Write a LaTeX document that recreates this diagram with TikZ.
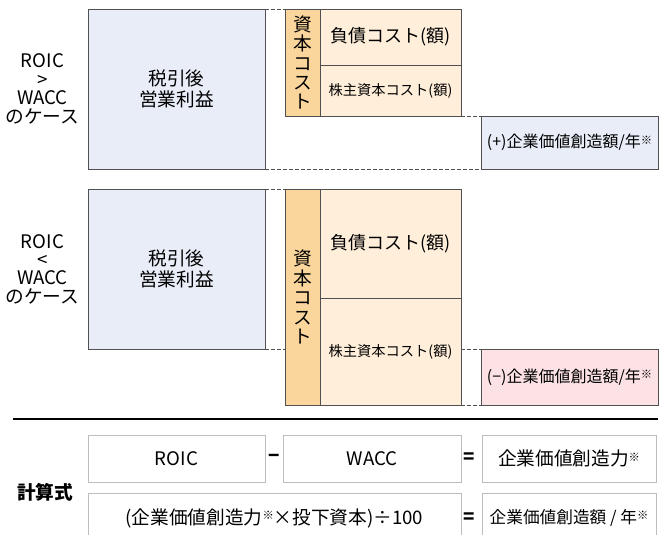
\documentclass[tikz,border=0pt]{standalone}
\usepackage{fontspec}
\setmainfont{Noto Sans CJK JP}
\usetikzlibrary{positioning,calc}
\usepackage{xcolor}
\definecolor{ebitblue}{HTML}{E9EDF8}
\definecolor{capcol}{HTML}{FBD69C}
\definecolor{costcol}{HTML}{FFEFDA}
\definecolor{minuscol}{HTML}{FCE1E5}
\definecolor{linegray}{HTML}{505050}
\definecolor{formgray}{HTML}{BDBDBD}
\newcommand{\kome}{\raisebox{0.4ex}{\fontsize{8.5}{8.5}\selectfont ※}}

\begin{document}
\begin{tikzpicture}[x=0.75pt,y=-0.75pt]
    \tikzset{
        cell/.style 2 args={draw=linegray,anchor=north west,inner sep=0pt,outer sep=0pt,
            minimum width=#1*0.75pt,minimum height=#2*0.75pt,align=center},
        formcell/.style 2 args={cell={#1}{#2},draw=formgray},
        guide/.style={draw=linegray,dash pattern=on 3pt off 1.5pt},
        caselabel/.style={align=center,font=\fontsize{14}{13.8}\selectfont},
        vtext/.style={font=\fontsize{14}{14.6}\selectfont}
    }
    \useasboundingbox (0,0) rectangle (667,535);
    % ROIC > WACC
    \node[cell={177}{160},fill=ebitblue,font=\fontsize{14}{16}\selectfont] (ebitA) at (88,9) {税引後\\営業利益};
    \node[cell={35}{107},fill=capcol,vtext] (capA) at (285,9) {資\\本\\コ\\ス\\ト};
    \node[cell={141}{56},fill=costcol,font=\fontsize{13.5}{16}\selectfont] (debtA) at (320,9) {負債コスト(額)};
    \node[cell={141}{51},fill=costcol,font=\fontsize{10.7}{13}\selectfont] (eqA) at (320,65) {株主資本コスト(額)};
    \node[cell={177}{53},fill=ebitblue,font=\fontsize{12}{13}\selectfont] (valA) at (481,116) {(+)企業価値創造額/年\kome};
    \node[caselabel,left=4 of ebitA] (caseA) {ROIC\\>\\WACC\\のケース};
    \draw[guide] (ebitA.north east) -- (capA.north west);
    \draw[guide] (eqA.south east) -- (valA.north west);
    \draw[guide] (ebitA.south east) -- (valA.south west);
    % ROIC < WACC
    \node[cell={177}{160},fill=ebitblue,font=\fontsize{14}{16}\selectfont] (ebitB) at (88,189) {税引後\\営業利益};
    \node[cell={35}{216},fill=capcol,vtext] (capB) at (285,189) {資\\本\\コ\\ス\\ト};
    \node[cell={141}{109},fill=costcol,font=\fontsize{13.5}{16}\selectfont] (debtB) at (320,189) {負債コスト(額)};
    \node[cell={141}{107},fill=costcol,font=\fontsize{10.7}{13}\selectfont] (eqB) at (320,298) {株主資本コスト(額)};
    \node[cell={177}{56},fill=minuscol,font=\fontsize{12}{13}\selectfont] (valB) at (481,349) {(−)企業価値創造額/年\kome};
    \node[caselabel,left=4 of ebitB] (caseB) {ROIC\\<\\WACC\\のケース};
    \draw[guide] (ebitB.north east) -- (capB.north west);
    \draw[guide] (ebitB.south east) -- (capB.west |- ebitB.south east);
    \draw[guide] (eqB.east |- valB.north west) -- (valB.north west);
    \draw[guide] (eqB.south east) -- (valB.south west);
    % formula
    \coordinate (ruleL) at (13,419);
    \coordinate (ruleR) at (658,419);
    \draw[line width=1.1pt] (ruleL) -- (ruleR);
    \node[formcell={177}{47},font=\fontsize{14}{16}\selectfont] (roic) at (88,435) {ROIC};
    \node[formcell={178}{47},font=\fontsize{14}{16}\selectfont] (wacc) at (283,435) {WACC};
    \node[formcell={174}{47},font=\fontsize{14}{16}\selectfont] (power) at (482,435) {企業価値創造力\kome};
    \node[formcell={373}{50},font=\fontsize{14}{16}\selectfont] (calc) at (88,493) {(企業価値創造力\kome×投下資本)÷100};
    \node[formcell={174}{50},font=\fontsize{12.5}{16}\selectfont] (amount) at (482,493) {企業価値創造額 / 年\kome};
    \node[font=\fontsize{14}{16}\selectfont\bfseries] (minus) at ($(roic.east)!0.5!(wacc.west)$) {−};
    \node[font=\fontsize{14}{16}\selectfont\bfseries] (eqtop) at ($(wacc.east)!0.4!(power.west)$) {=};
    \node[font=\fontsize{14}{16}\selectfont\bfseries] (eqbot) at (eqtop |- amount.center) {=};
    \node[font=\fontsize{14}{16}\selectfont\bfseries] (formula) at (45,492) {計算式};
\end{tikzpicture}
\end{document}
